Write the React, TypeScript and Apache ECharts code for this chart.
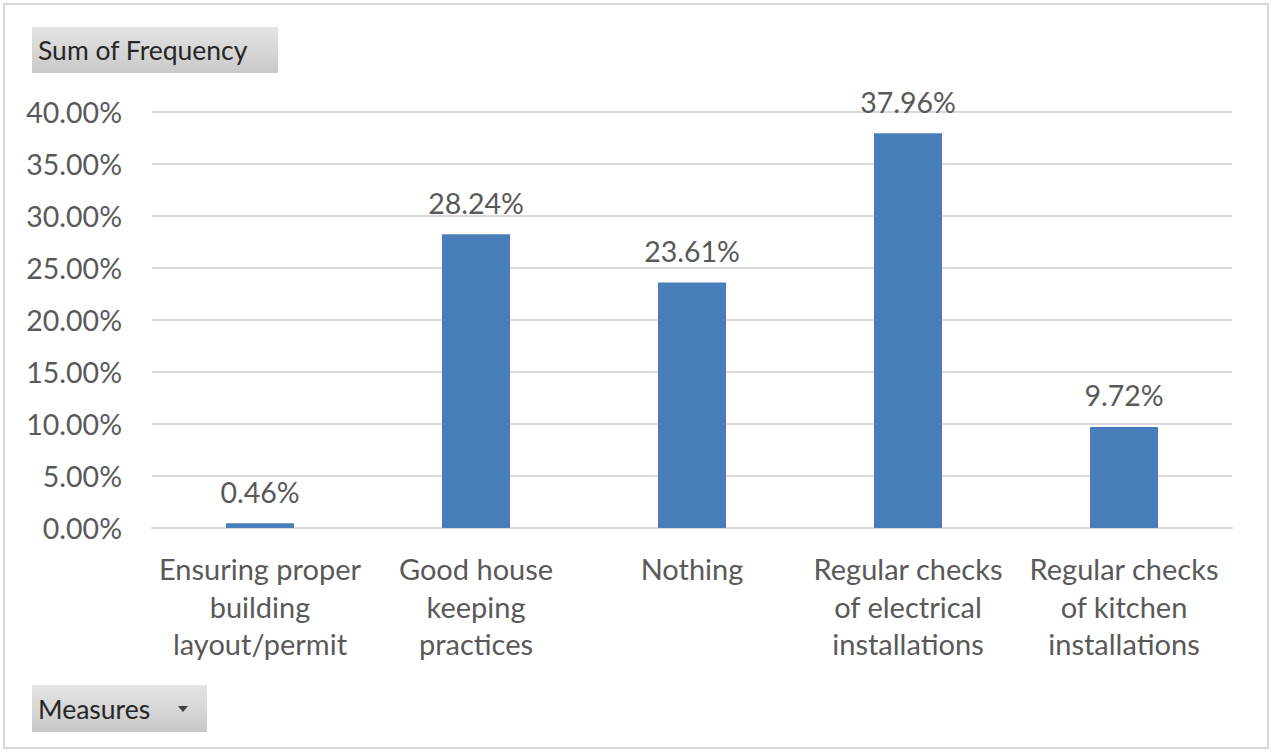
import React, { useEffect, useRef } from "react";
import * as echarts from "echarts";

const categories = [
  "Ensuring proper building layout/permit",
  "Good house keeping practices",
  "Nothing",
  "Regular checks of electrical installations",
  "Regular checks of kitchen installations",
];
const frequency = [0.46, 28.24, 23.61, 37.96, 9.72];
const yTicks = { min: 0, max: 40, interval: 5 };
const fieldButton = "Sum of Frequency";
const axisButton = "Measures";

const FONT = "Lato, 'Open Sans', sans-serif";
const GRAY = "#595959";

// greedy word wrap, at most 15 characters per line
function wrap(s: string, maxChars = 15): string {
  const words = s.split(" ");
  const lines: string[] = [];
  let cur = "";
  for (const w of words) {
    if (!cur) cur = w;
    else if ((cur + " " + w).length <= maxChars) cur += " " + w;
    else {
      lines.push(cur);
      cur = w;
    }
  }
  if (cur) lines.push(cur);
  return lines.join("\n");
}

export default function App() {
  const ref = useRef<HTMLDivElement>(null);
  useEffect(() => {
    if (!ref.current) return;
    const chart = echarts.init(ref.current, undefined, { renderer: "svg" });
    const btnFill = new echarts.graphic.LinearGradient(0, 0, 0, 1, [
      { offset: 0, color: "#e4e4e4" },
      { offset: 1, color: "#c9c9c9" },
    ]);
    chart.setOption({
      animation: false,
      backgroundColor: "#ffffff",
      grid: { left: 152, right: 40, top: 112, height: 416, containLabel: false },
      xAxis: {
        type: "category",
        data: categories,
        axisLine: { show: true, lineStyle: { color: "#d9d9d9", width: 2 } },
        axisTick: { show: false },
        axisLabel: {
          interval: 0,
          color: GRAY,
          fontFamily: FONT,
          fontSize: 29,
          lineHeight: 37.5,
          margin: 22,
          formatter: (v: string) => wrap(v),
        },
      },
      yAxis: {
        type: "value",
        min: yTicks.min,
        max: yTicks.max,
        interval: yTicks.interval,
        axisLine: { show: false },
        axisTick: { show: false },
        splitLine: { lineStyle: { color: "#d9d9d9", width: 2 } },
        axisLabel: {
          color: GRAY,
          fontFamily: FONT,
          fontSize: 28.5,
          margin: 30,
          formatter: (v: number) => v.toFixed(2) + "%",
        },
      },
      series: [
        {
          type: "bar",
          data: frequency,
          barWidth: 68,
          itemStyle: { color: "#4a7ebb" },
          label: {
            show: true,
            position: "top",
            distance: 17,
            color: GRAY,
            fontFamily: FONT,
            fontSize: 28.5,
            formatter: (p: any) => Number(p.value).toFixed(2) + "%",
          },
        },
      ],
      graphic: [
        {
          type: "rect",
          shape: { x: 4, y: 4, width: 1264, height: 744 },
          style: { fill: "none", stroke: "#d9d9d9", lineWidth: 2 },
          silent: true,
        },
        {
          type: "rect",
          shape: { x: 32, y: 27, width: 246, height: 46 },
          style: { fill: btnFill },
        },
        {
          type: "text",
          x: 38,
          y: 50,
          style: {
            text: fieldButton,
            fill: "#262626",
            font: `26.5px ${FONT}`,
            verticalAlign: "middle",
          },
        },
        {
          type: "rect",
          shape: { x: 32, y: 685, width: 175, height: 47 },
          style: { fill: btnFill },
        },
        {
          type: "text",
          x: 38,
          y: 709,
          style: {
            text: axisButton,
            fill: "#262626",
            font: `26.5px ${FONT}`,
            verticalAlign: "middle",
          },
        },
        {
          type: "polygon",
          shape: { points: [[178, 706], [188, 706], [183, 712]] },
          style: { fill: "#404040" },
        },
      ],
    });
    return () => chart.dispose();
  }, []);
  return (
    <div
      ref={ref}
      style={{ position: "fixed", left: 0, top: 0, width: 1272, height: 752 }}
    />
  );
}
